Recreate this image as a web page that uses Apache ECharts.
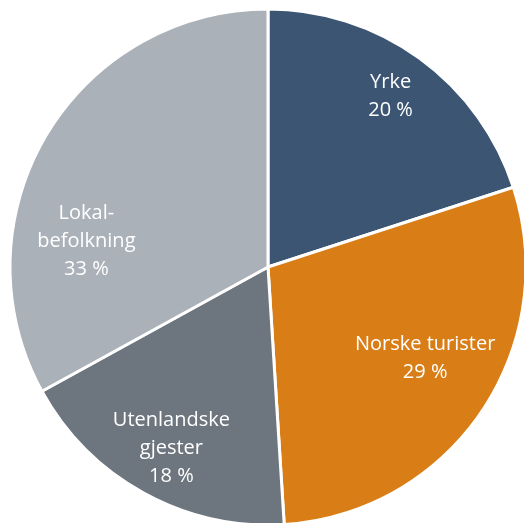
<!DOCTYPE html>
<html><head><meta charset="utf-8">
<script src="https://cdn.jsdelivr.net/npm/echarts@6/dist/echarts.min.js"></script>
<style>html,body{margin:0;padding:0;background:#fff}#c{width:524px;height:523px}</style>
</head><body><div id="c"></div>
<script>
const categories = ["Yrke", "Norske turister", "Utenlandske\ngjester", "Lokal-\nbefolkning"];
const values = [20, 29, 18, 33];
const colors = ["#3B5573", "#D97E17", "#6D767F", "#AAB1B8"];
const labelShift = [[45, -64], [48, 17], [-33, 66], [-68, 41]];

const chart = echarts.init(document.getElementById('c'), null, {renderer: 'canvas'});
chart.setOption({
  animation: false,
  series: [{
    type: 'pie',
    center: [268, 267],
    radius: [0, 258],
    startAngle: 90,
    clockwise: true,
    data: categories.map((n, i) => ({name: n, value: values[i], itemStyle: {color: colors[i]}})),
    itemStyle: {borderColor: '#fff', borderWidth: 3},
    label: {
      show: true,
      position: 'inside',
      color: '#fff',
      fontFamily: 'Open Sans',
      fontSize: 20,
      lineHeight: 28,
      align: 'center',
      formatter: p => p.name + '\n' + p.value + ' %'
    },
    labelLayout: p => ({dx: labelShift[p.dataIndex][0], dy: labelShift[p.dataIndex][1]}),
    emphasis: {disabled: true}
  }]
});
</script></body></html>
